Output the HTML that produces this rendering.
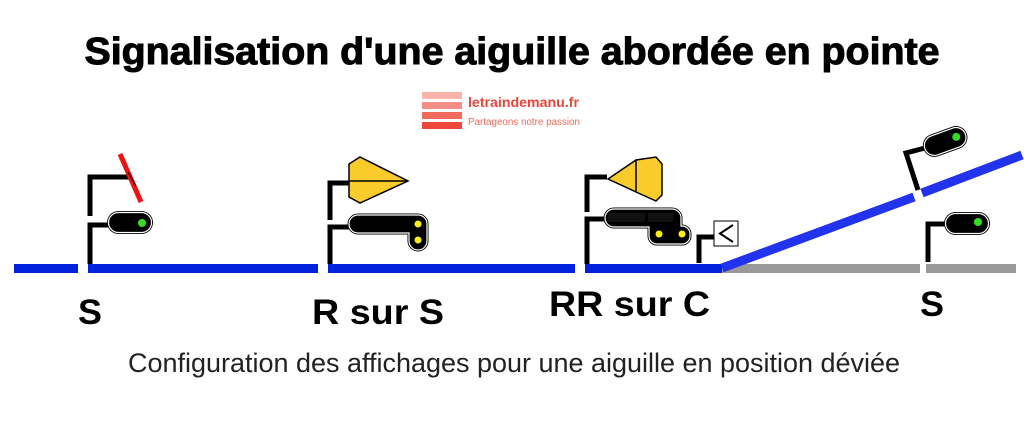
<!DOCTYPE html>
<html><head><meta charset="utf-8"><style>
html,body{margin:0;padding:0;background:#fff;}
svg{display:block;}
</style></head><body>
<svg width="1024" height="422" viewBox="0 0 1024 422" xmlns="http://www.w3.org/2000/svg">
<rect width="1024" height="422" fill="#fff"/>
<text x="512" y="64" text-anchor="middle" font-family="Liberation Sans, sans-serif" font-weight="bold" font-size="38" textLength="855" lengthAdjust="spacingAndGlyphs" fill="#000" stroke="#000" stroke-width="1">Signalisation d'une aiguille abordée en pointe</text>
<!-- logo -->
<rect x="422" y="92" width="40" height="7" fill="#f8b3ab"/>
<rect x="422" y="102" width="40" height="7" fill="#f58f85"/>
<rect x="422" y="112" width="40" height="7" fill="#f26a5e"/>
<rect x="422" y="122" width="40" height="7" fill="#ee463a"/>
<text x="468" y="107" font-family="Liberation Sans, sans-serif" font-weight="bold" font-size="14" fill="#e8463c" textLength="111" lengthAdjust="spacingAndGlyphs">letraindemanu.fr</text>
<text x="468" y="125" font-family="Liberation Sans, sans-serif" font-size="10" fill="#ee6a5e" textLength="112" lengthAdjust="spacingAndGlyphs">Partageons notre passion</text>
<!-- tracks -->
<g fill="#0022dd">
<rect x="14" y="264" width="64" height="9"/>
<rect x="88" y="264" width="230" height="9"/>
<rect x="328" y="264" width="247" height="9"/>
<rect x="585" y="264" width="137" height="9"/>
</g>
<rect x="722" y="264" width="198" height="9" fill="#999"/>
<rect x="926" y="264" width="90" height="9" fill="#999"/>
<line x1="722" y1="268" x2="914" y2="197" stroke="#2233ee" stroke-width="9"/>
<line x1="922" y1="193" x2="1022" y2="155" stroke="#2233ee" stroke-width="9"/>
<g fill="none" stroke="#000" stroke-width="5">
<polyline points="90,216 90,177 130,177"/>
<polyline points="90,264 90,225 110,225"/>
<polyline points="330,220 330,183 349,183"/>
<polyline points="330,264 330,227 349,227"/>
<polyline points="587,212 587,177 607,177"/>
<polyline points="587,264 587,219 607,219"/>
<polyline points="699,263 699,237 714,237"/>
<polyline points="918,190 906,153 925,148"/>
<polyline points="928,262 928,224 946,224"/>
</g>
<line x1="120" y1="154" x2="141" y2="202" stroke="#ee1111" stroke-width="5"/>
<line x1="128" y1="172" x2="136" y2="186" stroke="#000" stroke-width="1"/>
<!-- sig1 body -->
<rect x="107" y="211" width="46" height="23" rx="11.5" fill="#000"/>
<rect x="108.5" y="212.5" width="43" height="20" rx="10" fill="#000" stroke="#fff" stroke-width="1.2"/>
<circle cx="142" cy="223" r="4" fill="#33dd22"/>
<!-- sig2 -->
<polygon points="349,164 360,157 408,181 360,203 349,197" fill="#f9cb2b" stroke="#000" stroke-width="1.5"/>
<line x1="349" y1="181" x2="408" y2="181" stroke="#000" stroke-width="1.5"/>
<path d="M358,215 H418 A9,9 0 0 1 427,224 V241 A9,9 0 0 1 418,250 H418 A9,9 0 0 1 409,241 V233 H358 A9,9 0 0 1 358,215 Z" fill="#000" stroke="#000" stroke-width="3"/>
<path d="M358,215 H418 A9,9 0 0 1 427,224 V241 A9,9 0 0 1 418,250 H418 A9,9 0 0 1 409,241 V233 H358 A9,9 0 0 1 358,215 Z" fill="#000" stroke="#fff" stroke-width="1.2"/>
<circle cx="418" cy="224" r="3.5" fill="#ffee11"/>
<circle cx="418" cy="240" r="3.5" fill="#ffee11"/>
<!-- sig3 -->
<polygon points="608,179 636,160 656,157 662,164 662,195 656,201 636,192" fill="#f9cb2b" stroke="#000" stroke-width="1.5"/>
<line x1="636" y1="160" x2="636" y2="192" stroke="#000" stroke-width="1.5"/>
<path d="M614,209 H672 A9,9 0 0 1 681,218 V226 H682 A8,8 0 0 1 690,234 V236 A8,8 0 0 1 682,244 H657 A8,8 0 0 1 649,236 V227 H614 A9,9 0 0 1 614,209 Z" fill="#000" stroke="#000" stroke-width="3"/>
<path d="M614,209 H672 A9,9 0 0 1 681,218 V226 H682 A8,8 0 0 1 690,234 V236 A8,8 0 0 1 682,244 H657 A8,8 0 0 1 649,236 V227 H614 A9,9 0 0 1 614,209 Z" fill="#000" stroke="#fff" stroke-width="1.2"/>
<rect x="608" y="213" width="37" height="9" fill="#111"/>
<rect x="648" y="213" width="25" height="9" fill="#111"/>
<circle cx="659" cy="234" r="3.5" fill="#ffee11"/>
<circle cx="682" cy="234" r="3.5" fill="#ffee11"/>
<rect x="714" y="221" width="24" height="25" fill="#fff" stroke="#000" stroke-width="1"/>
<polyline points="733,225 720,233.5 733,242" fill="none" stroke="#000" stroke-width="2"/>
<!-- sig4 -->
<g transform="rotate(-20 945 141)">
<rect x="922" y="130" width="46" height="23" rx="11.5" fill="#000"/>
<rect x="923.5" y="131.5" width="43" height="20" rx="10" fill="#000" stroke="#fff" stroke-width="1.2"/>
<circle cx="957" cy="141" r="4" fill="#33dd22"/>
</g>
<!-- sig5 -->
<rect x="944" y="212" width="46" height="23" rx="11.5" fill="#000"/>
<rect x="945.5" y="213.5" width="43" height="20" rx="10" fill="#000" stroke="#fff" stroke-width="1.2"/>
<circle cx="978" cy="222" r="4" fill="#33dd22"/>
<!-- labels -->
<g font-family="Liberation Sans, sans-serif" font-weight="bold" font-size="35" fill="#000">
<text x="78" y="324" textLength="24" lengthAdjust="spacingAndGlyphs">S</text>
<text x="312" y="324" textLength="132" lengthAdjust="spacingAndGlyphs">R sur S</text>
<text x="549" y="316" textLength="161" lengthAdjust="spacingAndGlyphs">RR sur C</text>
<text x="920" y="316" textLength="24" lengthAdjust="spacingAndGlyphs">S</text>
</g>
<text x="128" y="372" font-family="Liberation Sans, sans-serif" font-size="27" fill="#222" textLength="772" lengthAdjust="spacingAndGlyphs">Configuration des affichages pour une aiguille en position déviée</text>
</svg>
</body></html>
